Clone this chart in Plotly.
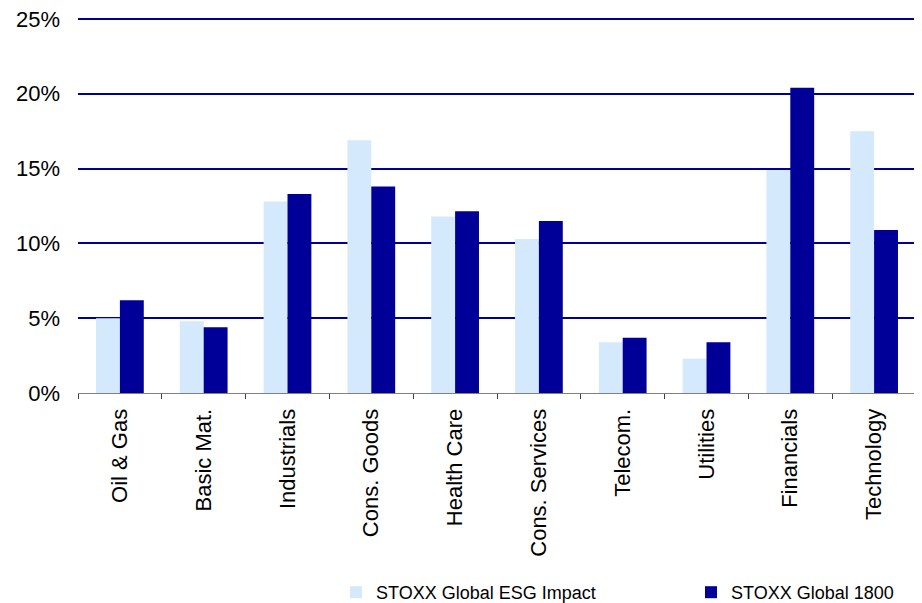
import plotly.graph_objects as go

categories = ["Oil & Gas", "Basic Mat.", "Industrials", "Cons. Goods", "Health Care",
              "Cons. Services", "Telecom.", "Utilities", "Financials", "Technology"]
esg_impact = [5.0, 4.8, 12.8, 16.9, 11.8, 10.3, 3.4, 2.3, 14.9, 17.5]
global_1800 = [6.2, 4.4, 13.3, 13.8, 12.15, 11.5, 3.7, 3.4, 20.4, 10.9]
y_ticks = [0, 5, 10, 15, 20, 25]
y_tick_labels = ["0%", "5%", "10%", "15%", "20%", "25%"]

LIGHT = "#D5E9FC"
DARK = "#000099"
FONT = "Liberation Sans, Arial, sans-serif"

fig = go.Figure()
fig.add_trace(go.Bar(x=categories, y=esg_impact, name="STOXX Global ESG Impact",
                     marker=dict(color=LIGHT, line=dict(width=0))))
fig.add_trace(go.Bar(x=categories, y=global_1800, name="STOXX Global 1800",
                     marker=dict(color=DARK, line=dict(width=0))))

fig.update_layout(
    width=922, height=603,
    margin=dict(l=70, r=14, t=9, b=218, autoexpand=False),
    paper_bgcolor="white", plot_bgcolor="white",
    barmode="group", bargap=0.43, bargroupgap=0,
    font=dict(family=FONT, size=18, color="black"),
    showlegend=True,
    legend=dict(orientation="h", x=328 / 922, xanchor="left", xref="container",
                y=-0.003, yanchor="bottom", yref="container", font=dict(size=18),
                entrywidth=310, itemwidth=30, traceorder="normal"),
    xaxis=dict(showgrid=False, showline=True, linecolor="#808080", linewidth=1,
               ticks="outside", tickson="boundaries", ticklen=5, tickcolor="#404040",
               tickangle=-90, tickfont=dict(size=22), ticklabelstandoff=6,
               automargin=False),
    yaxis=dict(range=[0, 25.13], tickvals=y_ticks, ticktext=y_tick_labels,
               showgrid=True, gridcolor=DARK, gridwidth=2, zeroline=False,
               showline=False, tickfont=dict(size=22), ticklabelstandoff=17,
               ticklabeloverflow="allow", automargin=False),
)
fig.write_html("out.html")
